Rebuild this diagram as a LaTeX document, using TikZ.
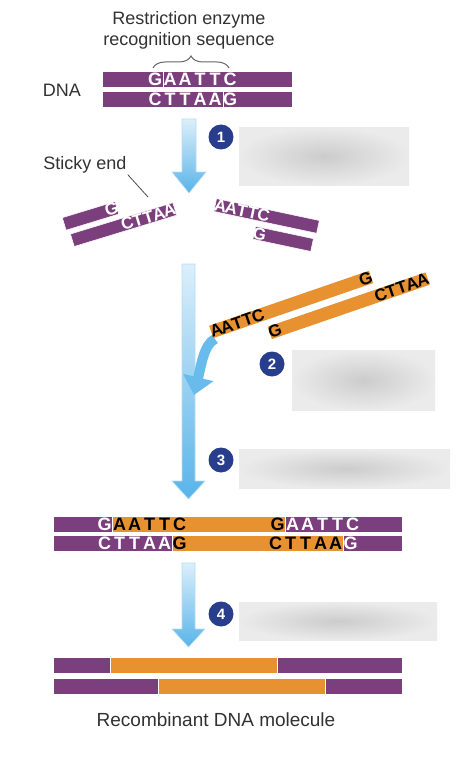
\documentclass[tikz,border=0pt]{standalone}
\usepackage{fontspec}
\setmainfont{Liberation Sans}
\usetikzlibrary{positioning,arrows.meta,decorations.pathreplacing}
\definecolor{dnapurple}{RGB}{124,63,126}
\definecolor{insorange}{RGB}{231,145,48}
\definecolor{arrowblue}{RGB}{88,180,233}
\definecolor{arrowpale}{RGB}{220,239,251}
\definecolor{stepblue}{RGB}{40,62,140}
\definecolor{labelgray}{RGB}{50,50,50}
\newcommand{\nuc}[1]{\makebox[15pt]{#1}}
\newcommand{\fnuc}[1]{\makebox[11pt]{#1}}

\begin{document}
\begin{tikzpicture}[
    x=1pt, y=-1pt,
    pstrand/.style={rectangle, fill=dnapurple, draw=white, line width=0.5pt, inner sep=0pt, minimum height=16pt, anchor=west},
    ostrand/.style={pstrand, fill=insorange},
    fstrand/.style={pstrand, minimum height=13pt},
    seq/.style={inner sep=0pt, anchor=west, text=white, font=\fontsize{18}{18}\selectfont\bfseries},
    fseq/.style={seq, font=\fontsize{17}{17}\selectfont\bfseries},
    labeltext/.style={text=labelgray, inner sep=1pt, font=\fontsize{18}{21}\selectfont, align=center},
    stepnum/.style={circle, fill=stepblue, text=white, minimum size=25pt, inner sep=0pt, font=\fontsize{15}{15}\selectfont\bfseries},
    blurbox/.style={rectangle, inner color=black!20, outer color=black!8, anchor=north west, inner sep=0pt},
    blockarrow/.style={top color=arrowpale, bottom color=arrowblue, draw=arrowblue!45, line width=0.6pt},
    curvearrow/.style={draw=arrowblue!90, line width=10pt, -{Triangle[width=30pt, length=18pt]}},
    sitebrace/.style={decorate, decoration={brace, amplitude=12pt}, draw=black!60, line width=1pt},
    pointer/.style={draw=black!70, line width=0.8pt}
]
\useasboundingbox (0,0) rectangle (474,757);

% starting DNA
\node[labeltext] (title) at (189,30) {Restriction enzyme\\recognition sequence};
\draw[sitebrace] (153,68) -- (229,68);
\node[labeltext] (dnalabel) at (62,90) {DNA};
\node[pstrand, minimum width=60.5pt] (topA) at (102,79.5) {};
\node[pstrand, minimum width=129.5pt] (topB) at (162.5,79.5) {};
\node[pstrand, minimum width=120.5pt] (botA) at (102,99) {};
\node[pstrand, minimum width=69.5pt] (botB) at (222.5,99) {};
\node[seq] (topG) at (147.5,79.5) {\nuc G};
\node[seq] (topSite) at (162.5,79.5) {\nuc A\nuc A\nuc T\nuc T\nuc C};
\node[seq] (botSite) at (147.5,99) {\nuc C\nuc T\nuc T\nuc A\nuc A};
\node[seq] (botG) at (222.5,99) {\nuc G};

% step 1
\shade[blockarrow] (182,119) -- (196,119) -- (196,172) -- (206,172) -- (189,193) -- (172,172) -- (182,172) -- cycle;
\node[stepnum] (n1) at (221,137) {1};
\node[blurbox, minimum width=170pt, minimum height=58pt] (box1) at (239,127) {};

% sticky ends
\node[labeltext] (sticky) at (85,165) {Sticky end};
\coordinate (stickytip) at (148,197);
\draw[pointer] (sticky.south east) -- (stickytip);

\begin{scope}[shift={(64,224)}, rotate=17, transform shape]
\node[fstrand, minimum width=55pt] (leftTop) at (0,0) {};
\node[fstrand, minimum width=107pt] (leftBot) at (3,18) {};
\node[fseq] (leftG) at (44,0) {\fnuc G};
\node[fseq] (leftSite) at (55,18) {\fnuc C\fnuc T\fnuc T\fnuc A\fnuc A};
\end{scope}

\begin{scope}[shift={(215,205)}, rotate=-12, transform shape]
\node[fstrand, minimum width=105pt] (rightTop) at (0,0) {};
\node[fstrand, minimum width=59pt] (rightBot) at (44,19) {};
\node[fseq] (rightSite) at (0,0) {\fnuc A\fnuc A\fnuc T\fnuc T\fnuc C};
\node[fseq] (rightG) at (44,19) {\fnuc G};
\end{scope}

% steps 2 and 3
\shade[blockarrow] (182,264) -- (195,264) -- (195,481) -- (205,481) -- (188.5,499) -- (172,481) -- (182,481) -- cycle;
\coordinate (joint) at (194,395);
\coordinate (insStart) at (215,339);
\draw[curvearrow] (insStart) .. controls (204,344) and (201,366) .. (joint);

\begin{scope}[shift={(211,332)}, rotate=19, transform shape]
\node[fstrand, fill=insorange, draw=none, minimum width=169pt] (insTop) at (0,0) {};
\node[fstrand, fill=insorange, draw=none, minimum width=167pt] (insBot) at (55,20) {};
\node[fseq, text=black] (insSite) at (0,0) {\fnuc A\fnuc A\fnuc T\fnuc T\fnuc C};
\node[fseq, text=black] (insTopG) at (158,0) {\fnuc G};
\node[fseq, text=black] (insBotG) at (55,20) {\fnuc G};
\node[fseq, text=black] (insBotSite) at (167,20) {\fnuc C\fnuc T\fnuc T\fnuc A\fnuc A};
\end{scope}

\node[stepnum] (n2) at (272,364) {2};
\node[blurbox, minimum width=143pt, minimum height=60pt] (box2) at (292,350) {};
\node[stepnum] (n3) at (221,460) {3};
\node[blurbox, minimum width=211pt, minimum height=39pt] (box3) at (239,449) {};

% recombinant with sticky ends joined
\node[pstrand, minimum width=59pt] (recTopA) at (53,524.5) {};
\node[ostrand, minimum width=173pt] (recTopB) at (112,524.5) {};
\node[pstrand, minimum width=117pt] (recTopC) at (285,524.5) {};
\node[pstrand, minimum width=119pt] (recBotA) at (53,543.5) {};
\node[ostrand, minimum width=171pt] (recBotB) at (172,543.5) {};
\node[pstrand, minimum width=59pt] (recBotC) at (343,543.5) {};
\node[seq] (recG1) at (97,524.5) {\nuc G};
\node[seq, text=black] (recSite1) at (112,524.5) {\nuc A\nuc A\nuc T\nuc T\nuc C};
\node[seq, text=black] (recG2) at (270,524.5) {\nuc G};
\node[seq] (recSite2) at (285,524.5) {\nuc A\nuc A\nuc T\nuc T\nuc C};
\node[seq] (recSite3) at (97,543.5) {\nuc C\nuc T\nuc T\nuc A\nuc A};
\node[seq, text=black] (recG3) at (172,543.5) {\nuc G};
\node[seq, text=black] (recSite4) at (268,543.5) {\nuc C\nuc T\nuc T\nuc A\nuc A};
\node[seq] (recG4) at (343,543.5) {\nuc G};

% step 4
\shade[blockarrow] (182,563) -- (195,563) -- (195,629) -- (205,629) -- (188.5,647) -- (172,629) -- (182,629) -- cycle;
\node[stepnum] (n4) at (221,614) {4};
\node[blurbox, minimum width=198pt, minimum height=38pt] (box4) at (239,602) {};

% final molecule
\node[pstrand, minimum width=57pt] (finTopA) at (53,665) {};
\node[ostrand, minimum width=167pt] (finTopB) at (110,665) {};
\node[pstrand, minimum width=125pt] (finTopC) at (277,665) {};
\node[pstrand, minimum width=105pt] (finBotA) at (53,686) {};
\node[ostrand, minimum width=167pt] (finBotB) at (158,686) {};
\node[pstrand, minimum width=77pt] (finBotC) at (325,686) {};
\node[labeltext, font=\fontsize{19}{21}\selectfont] (recomb) at (216,720) {Recombinant DNA molecule};

\end{tikzpicture}
\end{document}
